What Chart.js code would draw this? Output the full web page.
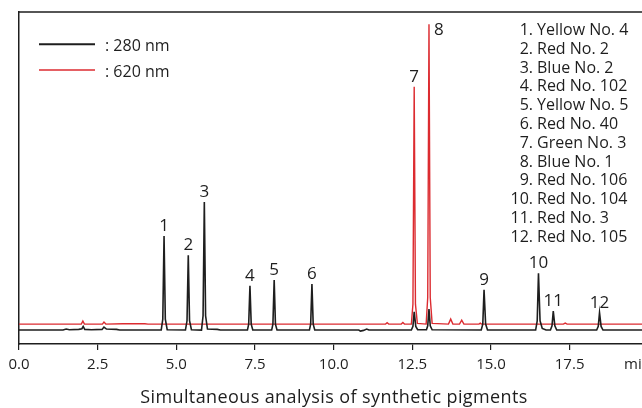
<!DOCTYPE html>
<html>
<head>
<meta charset="utf-8">
<script src="https://cdn.jsdelivr.net/npm/chart.js@4.4.1/dist/chart.umd.min.js"></script>
<style>
  html, body { margin: 0; padding: 0; background: #fff; }
  #wrap { width: 642px; height: 408px; position: relative; }
</style>
</head>
<body>
<div id="wrap"><canvas id="chrom"></canvas></div>
<script>
// 280 nm trace: retention time (min) and detector response
const time280 = [0.00, 1.40, 1.50, 1.60, 1.90, 2.00, 2.04, 2.09, 2.30, 2.64, 2.70, 2.78, 3.10, 3.20,
  4.52, 4.57, 4.61, 4.65, 4.71, 5.29, 5.34, 5.38, 5.42, 5.48, 5.80, 5.85, 5.89, 5.93, 5.99, 6.30, 6.40,
  7.26, 7.30, 7.34, 7.38, 7.43, 8.03, 8.07, 8.11, 8.15, 8.20, 9.23, 9.27, 9.31, 9.35, 9.40,
  10.80, 10.85, 10.95, 11.05, 11.12, 12.47, 12.52, 12.56, 12.61, 12.67, 12.95, 12.99, 13.03, 13.07, 13.13,
  14.69, 14.74, 14.78, 14.83, 14.89, 16.42, 16.47, 16.51, 16.56, 16.63, 16.75,
  16.89, 16.94, 16.98, 17.03, 17.09, 18.36, 18.41, 18.45, 18.50, 18.56, 19.80];
const signal280 = [4.2, 4.2, 4.5, 4.3, 4.4, 4.6, 5.3, 4.4, 4.3, 4.4, 5.1, 4.5, 4.4, 4.2,
  4.2, 7.5, 32.5, 7.5, 4.3, 4.2, 7.0, 26.7, 7.0, 4.3, 4.2, 8.5, 42.8, 8.5, 4.5, 4.4, 4.2,
  4.2, 6.0, 17.5, 6.0, 4.2, 4.2, 6.0, 19.3, 6.0, 4.2, 4.2, 6.0, 18.1, 6.0, 4.2,
  4.2, 3.9, 4.1, 4.5, 4.2, 4.2, 5.3, 9.7, 5.3, 4.3, 4.3, 5.5, 10.5, 5.5, 4.3,
  4.2, 6.0, 16.3, 6.0, 4.2, 4.2, 7.0, 21.3, 7.0, 4.7, 4.2,
  4.2, 5.5, 9.9, 5.5, 4.2, 4.2, 5.3, 9.4, 5.3, 4.2, 4.2];

// 620 nm trace
const time620 = [0.00, 1.98, 2.03, 2.08, 2.65, 2.70, 2.76, 3.30, 4.00, 4.10, 11.65, 11.70, 11.75,
  12.15, 12.20, 12.25, 12.47, 12.52, 12.56, 12.60, 12.66, 12.94, 12.99, 13.03, 13.07, 13.13,
  13.65, 13.72, 13.79, 14.00, 14.07, 14.14, 14.62, 14.66, 14.70, 17.30, 17.36, 17.42, 19.80];
const signal620 = [6.0, 6.0, 6.9, 6.0, 6.0, 6.6, 6.0, 6.1, 6.1, 6.0, 6.0, 6.4, 6.0,
  6.0, 6.5, 6.0, 6.0, 12.0, 77.5, 12.0, 6.2, 6.0, 14.0, 96.3, 14.0, 6.2,
  6.0, 7.5, 6.0, 6.0, 7.2, 6.0, 6.0, 6.3, 6.0, 6.0, 6.3, 6.0, 6.0];

// numbered peaks (apex time and height) and the compounds they belong to
const peakNumbers = ['1', '2', '3', '4', '5', '6', '7', '8', '9', '10', '11', '12'];
const peakTimes = [4.61, 5.38, 5.89, 7.34, 8.11, 9.31, 12.56, 13.03, 14.78, 16.51, 16.98, 18.45];
const peakHeights = [32.5, 26.7, 42.8, 17.5, 19.3, 18.1, 77.5, 96.3, 16.3, 21.3, 9.9, 9.4];
const compoundNames = ['Yellow No. 4', 'Red No. 2', 'Blue No. 2', 'Red No. 102', 'Yellow No. 5',
  'Red No. 40', 'Green No. 3', 'Blue No. 1', 'Red No. 106', 'Red No. 104', 'Red No. 3', 'Red No. 105'];
const traceLabels = [': 280 nm', ': 620 nm'];
const xAxisTitle = 'Simultaneous analysis of synthetic pigments';
const xUnit = 'min';

const FONT = '"Open Sans", "Noto Sans", sans-serif';
const INK = '#1e1e1e';
const RED = '#dc2b30';

const toPoints = (xs, ys) => xs.map((x, i) => ({ x, y: ys[i] }));

// frame top line, peak numbers, wavelength legend, compound list and caption
const annotate = {
  id: 'annotate',
  afterDraw(chart) {
    const { ctx, chartArea: area, scales: { x, y } } = chart;
    ctx.save();

    ctx.strokeStyle = INK;
    ctx.lineWidth = 1.5;
    ctx.beginPath();
    ctx.moveTo(area.left - 0.75, area.top);
    ctx.lineTo(area.right, area.top);
    ctx.stroke();

    ctx.fillStyle = INK;
    ctx.font = '17px ' + FONT;
    peakNumbers.forEach((n, i) => {
      const px = x.getPixelForValue(peakTimes[i]);
      const py = y.getPixelForValue(peakHeights[i]);
      if (n === '8') {
        ctx.textAlign = 'left';
        ctx.textBaseline = 'top';
        ctx.fillText(n, px + 5, py - 3);
      } else {
        ctx.textAlign = 'center';
        ctx.textBaseline = 'alphabetic';
        ctx.fillText(n, px, py - 5);
      }
    });

    // wavelength legend
    const colors = [INK, RED];
    const widths = [2, 1.5];
    ctx.font = '16px ' + FONT;
    ctx.textAlign = 'left';
    ctx.textBaseline = 'alphabetic';
    traceLabels.forEach((t, i) => {
      const ly = area.top + 32.3 + i * 25.7;
      ctx.strokeStyle = colors[i];
      ctx.lineWidth = widths[i];
      ctx.beginPath();
      ctx.moveTo(area.left + 20, ly);
      ctx.lineTo(area.left + 76, ly);
      ctx.stroke();
      ctx.fillStyle = INK;
      ctx.fillText(t, area.left + 86, ly + 6.5);
    });

    // compound list
    compoundNames.forEach((name, i) => {
      const by = area.top + 23 + i * 18.8;
      ctx.textAlign = 'right';
      ctx.fillText(peakNumbers[i] + '.', 533, by);
      ctx.textAlign = 'left';
      ctx.fillText(name, 537, by);
    });

    // unit label at the end of the time axis
    ctx.font = '15px ' + FONT;
    ctx.textAlign = 'left';
    ctx.textBaseline = 'middle';
    ctx.fillText(xUnit, 624, x.top + 21);

    // caption under the axis
    ctx.font = '18px ' + FONT;
    ctx.letterSpacing = '0.4px';
    ctx.textAlign = 'center';
    ctx.textBaseline = 'alphabetic';
    ctx.fillText(xAxisTitle, 334, 403);
    ctx.restore();
  }
};

new Chart(document.getElementById('chrom'), {
  type: 'scatter',
  data: {
    datasets: [
      { label: '280 nm', data: toPoints(time280, signal280), showLine: true, borderColor: INK,
        borderWidth: 1.6, pointRadius: 0, tension: 0 },
      { label: '620 nm', data: toPoints(time620, signal620), showLine: true, borderColor: RED,
        borderWidth: 1.4, pointRadius: 0, tension: 0 }
    ]
  },
  options: {
    responsive: true,
    maintainAspectRatio: false,
    animation: false,
    events: [],
    layout: { padding: { left: 19, top: 12, right: 0, bottom: 6 } },
    plugins: { legend: { display: false }, tooltip: { enabled: false } },
    scales: {
      x: {
        type: 'linear',
        min: 0,
        max: 19.8,
        border: { display: true, color: INK, width: 1.5 },
        grid: { display: true, drawOnChartArea: false, drawTicks: true, tickLength: 6, color: INK, lineWidth: 1.2 },
        ticks: {
          stepSize: 2.5,
          includeBounds: false,
          maxRotation: 0,
          padding: 6,
          color: INK,
          font: { family: FONT, size: 15 },
          callback: v => v.toFixed(1)
        },
        afterFit: axis => { axis.height = 58; }
      },
      y: {
        min: 0,
        max: 100,
        border: { display: true, color: INK, width: 1.5 },
        grid: { display: false },
        ticks: { display: false },
        afterFit: axis => { axis.width = 0; }
      }
    }
  },
  plugins: [annotate]
});
</script>
</body>
</html>
